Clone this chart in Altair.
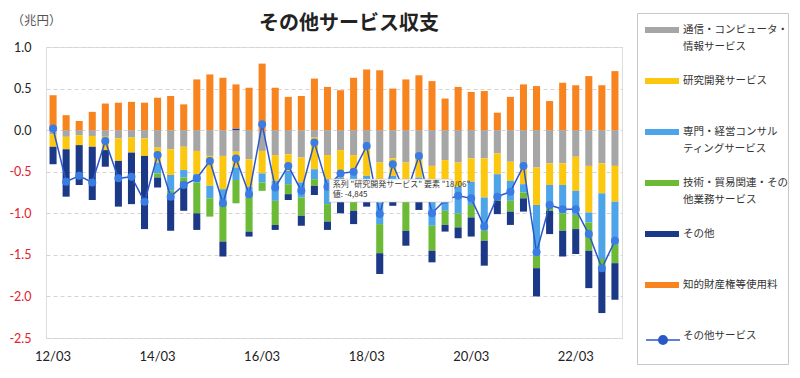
import altair as alt
import pandas as pd

# ---------------- data (兆円) ----------------
quarters = [
    "12/03", "12/06", "12/09", "12/12", "13/03", "13/06", "13/09", "13/12",
    "14/03", "14/06", "14/09", "14/12", "15/03", "15/06", "15/09", "15/12",
    "16/03", "16/06", "16/09", "16/12", "17/03", "17/06", "17/09", "17/12",
    "18/03", "18/06", "18/09", "18/12", "19/03", "19/06", "19/09", "19/12",
    "20/03", "20/06", "20/09", "20/12", "21/03", "21/06", "21/09", "21/12",
    "22/03", "22/06", "22/09", "22/12",
]
tick_labels = ["12/03", "14/03", "16/03", "18/03", "20/03", "22/03"]

series_names = [
    "通信・コンピュータ・情報サービス",
    "研究開発サービス",
    "専門・経営コンサルティングサービス",
    "技術・貿易関連・その他業務サービス",
    "その他",
    "知的財産権等使用料",
]
line_name = "その他サービス"

gray_vals = [-.05, -.08, -.06, -.07, -.08, -.10, -.09, -.10, -.21, -.23, -.20, -.25,
             -.31, -.31, -.26, -.35, -.25, -.30, -.29, -.33, -.09, -.30, -.24, -.30,
             -.16, -.39, -.34, -.39, -.31, -.43, -.36, -.39, -.34, -.34, -.28, -.38,
             -.41, -.45, -.40, -.40, -.32, -.43, -.40, -.43]
yellow_vals = [-.15, -.15, -.12, -.13, -.16, -.27, -.18, -.21, -.18, -.31, -.28, -.28,
               -.36, -.40, -.19, -.33, -.27, -.31, -.20, -.30, -.38, -.29, -.33, -.23,
               -.39, -.48, -.21, -.21, -.26, -.19, -.31, -.29, -.28, -.47, -.25, -.23,
               -.24, -.45, -.26, -.26, -.41, -.56, -.36, -.43]
blue_vals = [0, 0, 0, 0, 0, 0, 0, 0, -.13, -.19, -.09, -.10,
             -.15, -.15, -.15, -.10, -.11, -.24, -.16, -.18, -.12, -.30, -.10, -.17,
             -.10, -.26, -.08, -.12, -.12, -.53, -.30, -.32, -.28, -.40, -.27, -.24,
             -.10, -.61, -.26, -.34, -.29, -.12, -.79, -.52]
green_vals = [0, 0, 0, 0, 0, 0, 0, 0, -.05, -.09, -.05, -.37,
              -.22, -.48, -.28, -.44, -.10, -.29, -.12, -.22, -.08, -.21, -.13, -.27,
              -.15, -.35, -.17, -.49, -.17, -.30, -.17, -.17, -.15, -.12, -.05, -.13,
              -.07, -.15, -.05, -.21, -.17, -.34, -.13, -.22]
navy_vals = [-.21, -.57, -.48, -.64, -.20, -.55, -.62, -.88, -.12, -.39, -.35, -.20,
             0, -.18, .02, -.06, 0, -.06, -.07, -.12, -.11, -.10, -.20, -.16,
             -.12, -.25, -.11, -.18, -.10, -.14, -.08, -.13, -.23, -.30, -.16, -.16,
             -.16, -.34, -.28, -.31, -.30, -.45, -.52, -.44]
orange_vals = [.42, .18, .11, .22, .32, .33, .34, .33, .39, .41, .31, .61,
               .67, .63, .53, .51, .80, .51, .40, .41, .62, .52, .48, .63,
               .73, .72, .50, .61, .66, .59, .38, .52, .46, .47, .21, .40,
               .55, .53, .35, .57, .54, .65, .54, .71]
total_vals = [.02, -.62, -.55, -.63, -.13, -.58, -.56, -.86, -.30, -.80, -.66, -.58,
              -.37, -.88, -.34, -.77, .07, -.69, -.43, -.73, -.15, -.68, -.52, -.50,
              -.19, -1.01, -.41, -.78, -.31, -1.00, -.84, -.79, -.82, -1.16, -.80, -.74,
              -.43, -1.47, -.90, -.95, -.95, -1.25, -1.66, -1.33]

y_ticks = [-2.5, -2.0, -1.5, -1.0, -0.5, 0.0, 0.5, 1.0]

legend_lines = [
    ["通信・コンピュータ・", "情報サービス"],
    ["研究開発サービス"],
    ["専門・経営コンサル", "ティングサービス"],
    ["技術・貿易関連・その", "他業務サービス"],
    ["その他"],
    ["知的財産権等使用料"],
    ["その他サービス"],
]

# hover tooltip visible in the reference picture
tip_series = "研究開発サービス"
tip_quarter = "18/06"
tip_value = -4845

# ---------------- styles ----------------
bar_colors = ["#a6a6a6", "#fcc80f", "#4ea4e8", "#6cba36", "#1c3987", "#f7841f"]
line_color = "#2b58c8"
marker_color = "#3a7ce4"
neg_color = "#e3202b"
jp_font = "Noto Sans CJK JP"
num_font = "Lato"

# ---------------- tables ----------------
all_series = [gray_vals, yellow_vals, blue_vals, green_vals, navy_vals, orange_vals]
rows = []
for k, (name, vals) in enumerate(zip(series_names, all_series)):
    for q, v in zip(quarters, vals):
        if v != 0:
            rows.append({"期": q, "系列": name, "値": v, "順": k})
bars_df = pd.DataFrame(rows)
line_df = pd.DataFrame({"期": quarters, "値": total_vals, "系列": line_name})

tip_text = f'系列 "{tip_series}" 要素 "{tip_quarter}"\n値: {tip_value:,}'
tip_df = pd.DataFrame({"期": [tip_quarter],
                       "値": [total_vals[quarters.index(tip_quarter)]],
                       "文": [tip_text]})


def js(s):
    return "'" + s.replace("'", "\\'") + "'"


legend_domain = series_names + [line_name]
parts = []
for name, lines in zip(legend_domain, legend_lines):
    shown = [lines[0] + "\u2002"] + lines[1:]
    arr = ", ".join(js(t) for t in shown)
    parts.append(f"datum.label === {js(name)} ? [{arr}]")
label_expr = " : ".join(parts) + " : datum.label"

rect_path = "M-1,-0.18H1V0.18H-1Z"


def circ(r):
    return f"M{r},0A{r},{r},0,1,1,{-r},0A{r},{r},0,1,1,{r},0"


line_dot_path = "M-1,0H1" + circ(0.25) + circ(0.17) + circ(0.09) + circ(0.02)

LEG_X = 591
LEG_Y = -34
ROW = 50
CLIP = 34

x_enc = alt.X(
    "期:N", sort=quarters,
    scale=alt.Scale(paddingInner=0.46, paddingOuter=0.27),
    axis=alt.Axis(values=tick_labels, labelAngle=0, title=None, domain=False,
                  ticks=False, grid=False, labelPadding=12, labelFontSize=13,
                  labelFont=num_font, labelColor="#222"),
)
y_axis = alt.Axis(
    values=y_ticks, labelExpr="replace(format(datum.value, '.1f'), '\u2212', '-')",
    title="（兆円）", titleAngle=0, titleX=-35, titleY=-27, titleAlign="left",
    titleBaseline="middle", titleFontSize=12.5, titleFontWeight="normal",
    titleColor="#555", titleFont=jp_font,
    labelFontSize=12.5, labelFont=num_font, labelPadding=15,
    labelColor={"condition": {"test": "datum.value < 0", "value": neg_color}, "value": "#222"},
    domain=False, ticks=False, grid=True, gridDash=[4, 3], gridColor="#d4d4d4",
)
y_scale = alt.Scale(domain=[-2.5, 1.0], nice=False, zero=False)

bars = alt.Chart(bars_df).mark_bar().encode(
    x=x_enc,
    y=alt.Y("値:Q", stack="zero", scale=y_scale, axis=y_axis),
    color=alt.Color(
        "系列:N",
        scale=alt.Scale(domain=legend_domain, range=bar_colors + ["transparent"]),
        legend=alt.Legend(
            orient="none", legendX=LEG_X, legendY=LEG_Y, direction="vertical",
            title=" ", titleOrient="bottom", titleFontSize=8, titlePadding=3,
            symbolType=rect_path, symbolSize=1156, symbolStrokeWidth=0,
            labelFont=jp_font, labelFontSize=10.5, labelColor="#333",
            labelExpr=label_expr, labelLimit=300, labelOffset=4,
            labelBaseline="middle", padding=0, strokeColor="#c8c8c8",
            fillColor="white", rowPadding=11, clipHeight=CLIP, symbolOffset=8,
            gridAlign="all",
        ),
    ),
    order=alt.Order("順:Q"),
)

line = alt.Chart(line_df).mark_line(strokeWidth=1.5).encode(
    x=x_enc,
    y=alt.Y("値:Q", scale=y_scale, axis=y_axis),
    stroke=alt.Stroke(
        "系列:N",
        scale=alt.Scale(domain=[line_name], range=[line_color]),
        legend=alt.Legend(
            orient="none", legendX=LEG_X, legendY=LEG_Y + 6 * ROW + 10, title=None,
            symbolType=line_dot_path, symbolSize=1156, symbolStrokeWidth=1.6,
            labelExpr="''", padding=0, clipHeight=CLIP, symbolOffset=8,
        ),
    ),
)

points = alt.Chart(line_df).mark_circle(size=64, color=marker_color, opacity=1).encode(
    x=x_enc, y=alt.Y("値:Q", scale=y_scale, axis=y_axis),
)

tip_box = alt.Chart(tip_df).mark_rect(
    width=123, height=23, xOffset=11, yOffset=-23.5,
    fill="white", stroke="#bdbdbd", strokeWidth=0.6,
).encode(x=x_enc, y=alt.Y("値:Q", scale=y_scale, axis=y_axis))

tip_label = alt.Chart(tip_df).mark_text(
    align="left", baseline="top", dx=-47, dy=-33.5, fontSize=8, lineHeight=10,
    lineBreak="\n", font=jp_font, color="#333",
).encode(x=x_enc, y=alt.Y("値:Q", scale=y_scale, axis=y_axis), text="文:N")

chart = alt.layer(bars, line, points, tip_box, tip_label).properties(
    width=576, height=291,
    padding={"left": 38, "top": 39, "right": 170, "bottom": 30},
    autosize=alt.AutoSizeParams(type="none"),
    title=alt.Title("その他サービス収支", fontSize=20, font=jp_font,
                    fontWeight="bold", color="#222", dx=15, offset=-21,
                    anchor="middle"),
).configure_view(stroke=None).configure(style={"guide-label": {"lineHeight": 17}})

chart.save("out.html", embed_options={"renderer": "svg", "actions": False})
